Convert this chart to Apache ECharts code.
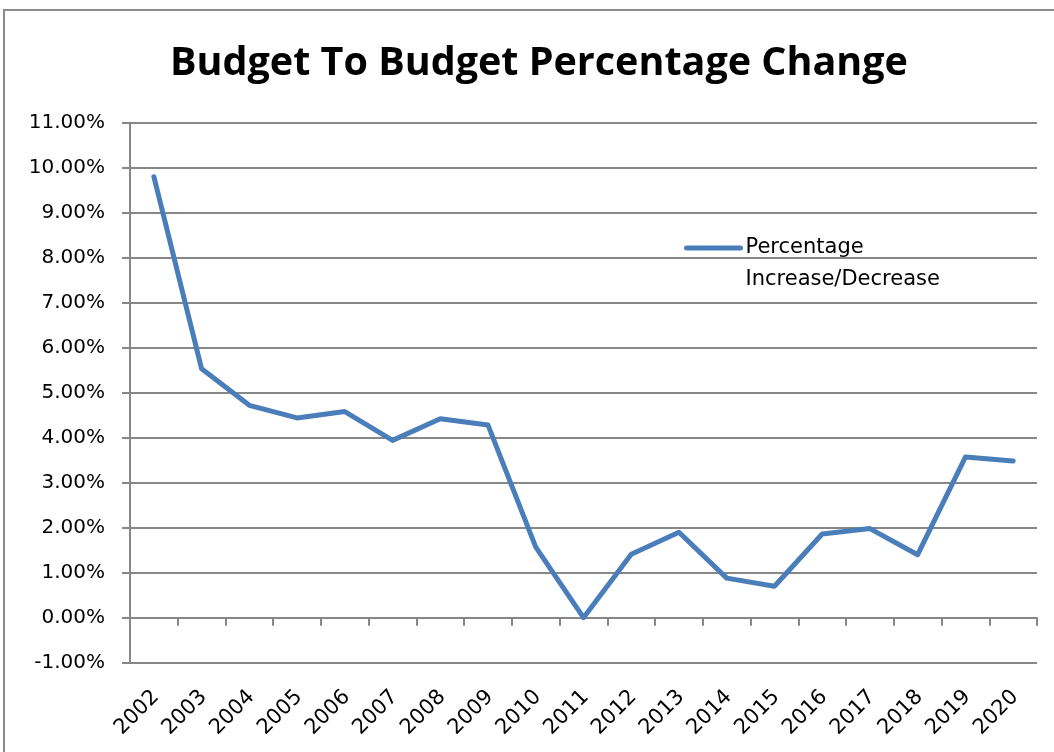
<!DOCTYPE html>
<html>
<head>
<meta charset="utf-8">
<script src="https://cdn.jsdelivr.net/npm/echarts@6/dist/echarts.min.js"></script>
<style>
html,body{margin:0;padding:0;background:#fff;}
#chart{width:1054px;height:752px;}
</style>
</head>
<body>
<div id="chart"></div>
<script>
const years = ['2002','2003','2004','2005','2006','2007','2008','2009','2010','2011','2012','2013','2014','2015','2016','2017','2018','2019','2020'];
const pctChange = [9.80, 5.53, 4.72, 4.44, 4.58, 3.94, 4.42, 4.28, 1.57, 0.00, 1.41, 1.90, 0.88, 0.70, 1.86, 1.98, 1.40, 3.57, 3.48];
const yMin = -1, yMax = 11, yStep = 1;
const titleText = 'Budget To Budget Percentage Change';
const seriesName = 'Percentage Increase/Decrease';

const gray = '#878787';
const chart = echarts.init(document.getElementById('chart'), null, {renderer:'canvas'});
chart.setOption({
  animation: false,
  backgroundColor: '#fff',
  graphic: [{
    type: 'rect', silent: true,
    shape: {x: 4, y: 10, width: 1100, height: 800},
    style: {fill: 'none', stroke: '#8c8c8c', lineWidth: 2}
  }],
  title: {
    text: titleText,
    left: 170, top: 41, padding: 0,
    textStyle: {fontFamily: 'Open Sans', fontWeight: 'bold', fontSize: 39.5, lineHeight: 46, color: '#000'}
  },
  legend: {
    left: 684, top: 200, padding: 0,
    itemWidth: 54, itemHeight: 5,
    data: [seriesName],
    formatter: () => ' \nPercentage\nIncrease/Decrease',
    lineStyle: {width: 5, cap: 'round'},
    textStyle: {fontFamily: 'DejaVu Sans', fontSize: 21, lineHeight: 32, color: '#000'}
  },
  grid: [
    {left: 130, right: 17, top: 122.7, bottom: 89.3},
    {left: 132, right: 15, top: 122.7, bottom: 89.3}
  ],
  xAxis: [{
    type: 'category', gridIndex: 0, data: years, boundaryGap: true,
    axisLine: {onZero: true, lineStyle: {color: gray, width: 2}},
    axisTick: {show: true, length: 8, lineStyle: {color: gray, width: 2}},
    axisLabel: {show: false},
    splitLine: {show: false}
  }, {
    type: 'category', gridIndex: 1, data: years, boundaryGap: true,
    axisLine: {show: false, onZero: false}, axisTick: {show: false},
    axisLabel: {interval: 0, rotate: 45, margin: 31, fontFamily: 'DejaVu Sans', fontSize: 21, color: '#000'},
    splitLine: {show: false}
  }],
  yAxis: [{
    type: 'value', gridIndex: 0, min: yMin, max: yMax, interval: yStep,
    axisLine: {show: true, lineStyle: {color: gray, width: 2}},
    axisTick: {show: true, length: 8, lineStyle: {color: gray, width: 2}},
    axisLabel: {margin: 25, fontFamily: 'DejaVu Sans', fontSize: 20, color: '#000',
      formatter: v => v.toFixed(2) + '%'},
    splitLine: {show: true, lineStyle: {color: gray, width: 2}}
  }, {
    type: 'value', gridIndex: 1, min: yMin, max: yMax, interval: yStep, show: false
  }],
  series: [{
    name: seriesName, type: 'line', xAxisIndex: 0, yAxisIndex: 0,
    data: pctChange, symbol: 'none', smooth: false,
    lineStyle: {color: '#4a7ebb', width: 5, cap: 'round', join: 'round'},
    itemStyle: {color: '#4a7ebb'}
  }]
});
</script>
</body>
</html>
